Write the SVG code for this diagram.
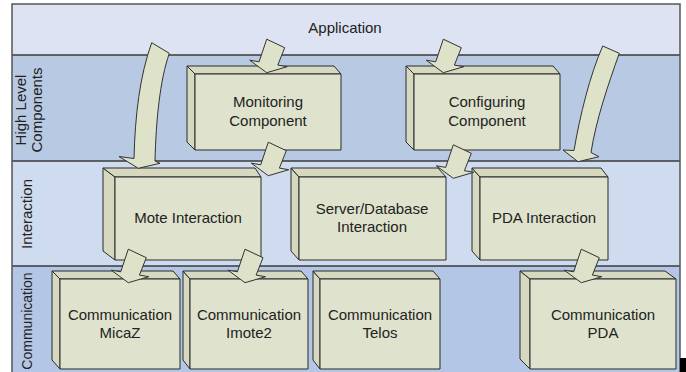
<svg xmlns="http://www.w3.org/2000/svg" xmlns:xlink="http://www.w3.org/1999/xlink" width="686" height="372" viewBox="0 0 686 372">
<style>
.face{fill:#dfe2cc;stroke:#2b2b2b;stroke-width:1;stroke-linejoin:round}
.side{fill:#d6d9c0;stroke:#2b2b2b;stroke-width:1;stroke-linejoin:round}
.arrow{fill:#dde2c8;stroke:#333;stroke-width:1;stroke-linejoin:round}
.lbl{font-family:"Liberation Sans",Arial,sans-serif;font-size:15px;fill:#222;text-anchor:middle}
.sep{stroke:#3a3a3a;stroke-width:1.5}
</style>
<defs>
<path id="sa" class="arrow" d="M0,-33.5 L18,-25 L11.1,-7.6 L20.5,-6 L0,0 L-17,-12.5 L-7.6,-10.9 Z"/>
</defs>
<rect width="686" height="372" fill="#ffffff"/>
<g id="bands">
<rect x="12" y="4" width="668" height="51" fill="#dde3f2"/>
<rect x="12" y="55" width="668" height="106" fill="#b8cae3"/>
<rect x="12" y="161" width="668" height="105" fill="#cfdbee"/>
<rect x="12" y="266" width="668" height="106" fill="#b3c6e5"/>
<line class="sep" x1="12" y1="55" x2="680" y2="55"/>
<line class="sep" x1="12" y1="161" x2="680" y2="161"/>
<line class="sep" x1="12" y1="266" x2="680" y2="266"/>
<path d="M12,372 V4 H680 V372" fill="none" stroke="#555" stroke-width="1.5"/>
<rect x="680" y="358" width="6" height="14" fill="#000"/>
<text class="lbl" x="345" y="33">Application</text>
<text class="lbl" transform="translate(26,110) rotate(-90)">High Level</text>
<text class="lbl" transform="translate(42,110) rotate(-90)">Components</text>
<text class="lbl" transform="translate(32,214) rotate(-90)">Interaction</text>
<text class="lbl" transform="translate(31.5,321) rotate(-90)" style="font-size:14px">Communication</text>
</g>
<g id="monitoring">
<path class="side" d="M195,74 L187,66 L187,142 L195,150 Z"/>
<path class="side" d="M195,74 L187,66 L334,66 L341,74 Z"/>
<rect class="face" x="195" y="74" width="146" height="76"/>
<text class="lbl" x="268" y="107">Monitoring</text>
<text class="lbl" x="268" y="125.5">Component</text>
</g>
<g id="configuring">
<path class="side" d="M414,74 L406,66 L406,142 L414,150 Z"/>
<path class="side" d="M414,74 L406,66 L553,66 L560,74 Z"/>
<rect class="face" x="414" y="74" width="146" height="76"/>
<text class="lbl" x="487" y="107">Configuring</text>
<text class="lbl" x="487" y="125.5">Component</text>
</g>
<g id="mote">
<path class="side" d="M115,177 L103,168 L103,251 L115,260 Z"/>
<path class="side" d="M115,177 L103,168 L255,168 L261,177 Z"/>
<rect class="face" x="115" y="177" width="146" height="83"/>
<text class="lbl" x="188" y="223">Mote Interaction</text>
</g>
<g id="server">
<path class="side" d="M299,177 L291,168 L291,251 L299,260 Z"/>
<path class="side" d="M299,177 L291,168 L438,168 L446,177 Z"/>
<rect class="face" x="299" y="177" width="147" height="83"/>
<text class="lbl" x="372" y="213.5">Server/Database</text>
<text class="lbl" x="372" y="232">Interaction</text>
</g>
<g id="pdainteraction">
<path class="side" d="M480,177 L472,168 L472,251 L480,260 Z"/>
<path class="side" d="M480,177 L472,168 L601,168 L608,177 Z"/>
<rect class="face" x="480" y="177" width="128" height="83"/>
<text class="lbl" x="544" y="223">PDA Interaction</text>
</g>
<g id="micaz">
<path class="side" d="M60,279 L52,271 L52,360 L60,369 Z"/>
<path class="side" d="M60,279 L52,271 L173,271 L180,279 Z"/>
<rect class="face" x="60" y="279" width="120" height="90"/>
<text class="lbl" x="120" y="319.5">Communication</text>
<text class="lbl" x="120" y="338">MicaZ</text>
</g>
<g id="imote2">
<path class="side" d="M190,279 L183,271 L183,360 L190,369 Z"/>
<path class="side" d="M190,279 L183,271 L301,271 L308,279 Z"/>
<rect class="face" x="190" y="279" width="118" height="90"/>
<text class="lbl" x="249" y="319.5">Communication</text>
<text class="lbl" x="249" y="338">Imote2</text>
</g>
<g id="telos">
<path class="side" d="M320,279 L313,271 L313,360 L320,369 Z"/>
<path class="side" d="M320,279 L313,271 L433,271 L440,279 Z"/>
<rect class="face" x="320" y="279" width="120" height="90"/>
<text class="lbl" x="380" y="319.5">Communication</text>
<text class="lbl" x="380" y="338">Telos</text>
</g>
<g id="pdacomm">
<path class="side" d="M530,279 L520,271 L520,359 L530,369 Z"/>
<path class="side" d="M530,279 L520,271 L665,271 L676,279 Z"/>
<rect class="face" x="530" y="279" width="146" height="90"/>
<text class="lbl" x="603" y="319.5">Communication</text>
<text class="lbl" x="603" y="338">PDA</text>
</g>
<g id="connectors">
<path class="arrow" d="M151.7,42.7 L169.3,53.3 C160,80 156,120 155,161 L160,163.3 L138.3,168.3 L119,156.5 L134,158.5 C135,115 140,75 151.7,42.7 Z"/>
<path class="arrow" d="M602.7,46 L619.3,53.3 C608,85 596,120 591,152.5 L599,156.7 L578,161.7 L563,150 L574,150.5 C580,115 590,75 602.7,46 Z"/>
<use xlink:href="#sa" x="266.7" y="72.7"/>
<use xlink:href="#sa" x="268.3" y="175.7"/>
<use xlink:href="#sa" x="443.3" y="72.7"/>
<use xlink:href="#sa" x="453.3" y="178.3"/>
<use xlink:href="#sa" x="128.3" y="282.7"/>
<use xlink:href="#sa" x="245" y="282.7"/>
<use xlink:href="#sa" x="581.3" y="282.7"/>
</g>
</svg>
